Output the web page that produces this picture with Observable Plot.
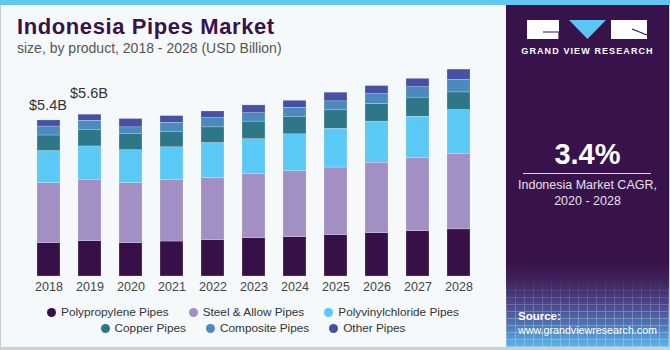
<!DOCTYPE html>
<html>
<head>
<meta charset="utf-8">
<script src="https://cdn.jsdelivr.net/npm/d3@7"></script>
<script src="https://cdn.jsdelivr.net/npm/@observablehq/plot@0.6"></script>
<style>
  html, body { margin: 0; padding: 0; background: #fff; }
  #wrap { position: relative; width: 670px; height: 350px; background: #f5f9fc; overflow: hidden; font-family: "Liberation Sans", Arial, sans-serif; }
  .abs { position: absolute; }
  #title { left: 17px; top: 14px; font-size: 22px; font-weight: bold; color: #38124a; letter-spacing: 0.6px; white-space: nowrap; line-height: 26px; }
  #subtitle { left: 17px; top: 40px; font-size: 14px; color: #555; white-space: nowrap; line-height: 16px; }
  #chart { left: 0; top: 50px; }
  .legrow { left: 0; width: 506px; display: flex; justify-content: center; gap: 20px; font-size: 11.8px; color: #333; line-height: 14px; }
  .item { display: flex; align-items: center; white-space: nowrap; }
  .dot { width: 9px; height: 9px; border-radius: 50%; margin-right: 5px; }
  #panel { left: 506px; top: 5px; width: 163px; height: 342px;
    background: linear-gradient(to bottom, #38124a 0%, #38124a 75%, #40245e 81%, #4a4a8c 88%, #4f7ab8 94%, #5bb6e6 100%); }
  #grid { left: 506px; top: 278px; width: 163px; height: 69px; opacity: 0.28;
    background:
      repeating-linear-gradient(90deg, rgba(255,255,255,0.9) 0 1px, transparent 1px 9px),
      repeating-linear-gradient(0deg, rgba(255,255,255,0.9) 0 1px, transparent 1px 7px);
    -webkit-mask-image: linear-gradient(to bottom, transparent 0%, #000 50%);
    mask-image: linear-gradient(to bottom, transparent 0%, #000 50%); }
  #gvr { left: 506px; top: 46px; width: 163px; text-align: center; color: #fff; font-size: 9px; font-weight: bold; letter-spacing: 1.1px; }
  #cagr { left: 506px; top: 138px; width: 163px; text-align: center; color: #fff; font-size: 29px; font-weight: bold; line-height: 32px; }
  #rule { left: 523px; top: 173px; width: 128px; height: 1px; background: #d8d0e0; }
  #cagrtxt { left: 506px; top: 178px; width: 163px; text-align: center; color: #e6e0ec; font-size: 12.5px; line-height: 15.5px; }
  #src { left: 518px; top: 309px; color: #fff; font-size: 10.7px; line-height: 14px; white-space: nowrap; }
  #src b { font-size: 11.5px; }
</style>
</head>
<body>
<div id="wrap">
  <div class="abs" style="left:0;top:0;width:670px;height:5px;background:#62c7ee"></div>
  <div class="abs" style="left:0;top:5px;width:1px;height:345px;background:#c9c9c9"></div>
  <div class="abs" style="left:0;top:347px;width:670px;height:3px;background:#cfcfcf"></div>
  <div class="abs" style="left:669px;top:5px;width:1px;height:345px;background:#c9c9c9"></div>
  <div id="title" class="abs">Indonesia Pipes Market</div>
  <div id="subtitle" class="abs">size, by product, 2018 - 2028 (USD Billion)</div>
  <div id="chart" class="abs"></div>
  <div id="leg1" class="abs legrow" style="top:305px"></div>
  <div id="leg2" class="abs legrow" style="top:321px"></div>
  <div id="panel" class="abs"></div>
  <div id="grid" class="abs"></div>
  <svg class="abs" style="left:506px;top:5px" width="163" height="40">
    <rect x="21" y="15" width="32" height="19" fill="#fff"/>
    <polyline points="37,27 53,27 53,34" fill="none" stroke="#38124a" stroke-width="1.2"/>
    <polygon points="63,15 100,15 81.5,34" fill="#5ac6f2"/>
    <rect x="105" y="15" width="36" height="19" fill="#fff"/>
    <line x1="126" y1="24" x2="141" y2="30" stroke="#38124a" stroke-width="1.2"/>
  </svg>
  <div id="gvr" class="abs">GRAND VIEW RESEARCH</div>
  <div id="cagr" class="abs">3.4%</div>
  <div id="rule" class="abs"></div>
  <div id="cagrtxt" class="abs">Indonesia Market CAGR,<br>2020 - 2028</div>
  <div id="src" class="abs"><b>Source:</b><br>www.grandviewresearch.com</div>
</div>
<script>
const years = [2018, 2019, 2020, 2021, 2022, 2023, 2024, 2025, 2026, 2027, 2028];
const seriesNames = ["Polypropylene Pipes", "Steel & Allow Pipes", "Polyvinylchloride Pipes", "Copper Pipes", "Composite Pipes", "Other Pipes"];
const seriesColors = ["#371047", "#a28fc3", "#5bc9f5", "#2e7788", "#4b89be", "#4651a3"];
const polypropylene = [1.15, 1.22, 1.15, 1.21, 1.26, 1.33, 1.36, 1.43, 1.50, 1.57, 1.63];
const steel        = [2.08, 2.13, 2.08, 2.12, 2.15, 2.21, 2.28, 2.34, 2.44, 2.54, 2.62];
const pvc          = [1.11, 1.15, 1.14, 1.14, 1.21, 1.21, 1.28, 1.34, 1.42, 1.42, 1.51];
const copper       = [0.54, 0.58, 0.55, 0.52, 0.54, 0.61, 0.61, 0.64, 0.61, 0.66, 0.61];
const composite    = [0.31, 0.31, 0.24, 0.33, 0.32, 0.29, 0.31, 0.31, 0.34, 0.36, 0.44];
const other        = [0.21, 0.21, 0.29, 0.23, 0.23, 0.27, 0.24, 0.30, 0.28, 0.29, 0.35];
const labelYears = [2018, 2019];
const labelValues = [5.4, 5.6];
const labelTexts = ["$5.4B", "$5.6B"];

const seriesValues = [polypropylene, steel, pvc, copper, composite, other];
const data = [];
seriesNames.forEach((s, i) => years.forEach((y, j) => data.push({year: y, product: s, value: seriesValues[i][j]})));
const labels = labelYears.map((y, i) => ({year: y, value: labelValues[i], text: labelTexts[i]}));

const chart = Plot.plot({
  width: 506,
  height: 250,
  marginLeft: 14,
  marginRight: 12,
  marginTop: 0,
  marginBottom: 24,
  style: {background: "transparent", fontFamily: "'Liberation Sans', Arial, sans-serif", fontSize: "12.5px", color: "#444"},
  x: {domain: years, padding: 0.43, label: null, tickSize: 0, tickPadding: 6, tickFormat: d => String(d)},
  y: {domain: [0, 7.82], axis: null},
  color: {domain: seriesNames, range: seriesColors},
  marks: [
    Plot.barY(data, {x: "year", y: "value", fill: "product", order: seriesNames, stroke: "#f5f9fc", strokeWidth: 0.4, strokeOpacity: 0.6}),
    Plot.text(labels.slice(0, 1), {x: "year", y: "value", text: "text", dx: -1, dy: -10, lineAnchor: "bottom", fontSize: 14.5, fill: "#333"}),
    Plot.text(labels.slice(1, 2), {x: "year", y: "value", text: "text", dx: -1, dy: -17, lineAnchor: "bottom", fontSize: 14.5, fill: "#333"})
  ]
});
document.getElementById("chart").appendChild(chart);

const rows = [[0, 1, 2], [3, 4, 5]];
rows.forEach((r, k) => {
  const el = document.getElementById(k === 0 ? "leg1" : "leg2");
  r.forEach(i => {
    const it = document.createElement("div");
    it.className = "item";
    it.innerHTML = `<span class="dot" style="background:${seriesColors[i]}"></span><span></span>`;
    it.lastChild.textContent = seriesNames[i];
    el.appendChild(it);
  });
});
</script>
</body>
</html>
